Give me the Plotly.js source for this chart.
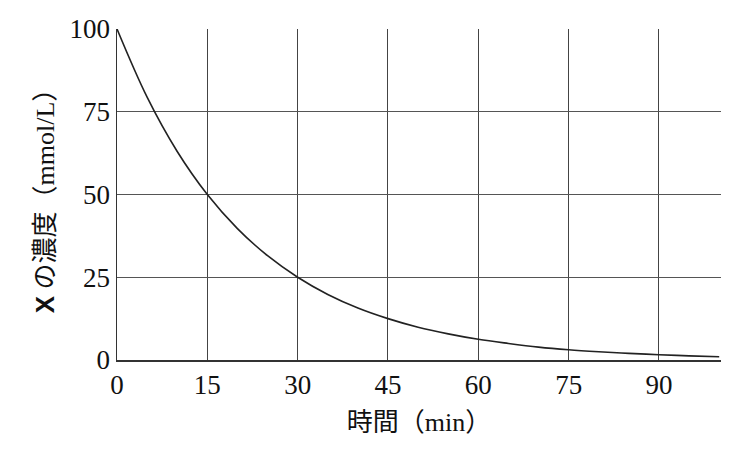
<!DOCTYPE html>
<html><head><meta charset="utf-8">
<script src="https://cdn.plot.ly/plotly-3.0.1.min.js"></script>
<style>html,body{margin:0;padding:0;background:#fff}</style>
</head><body>
<div id="chart" style="width:754px;height:457px"></div>
<script>
// Values
const timeMin = [0, 5, 10, 15, 20, 25, 30, 35, 40, 45, 50, 55, 60, 65, 70, 75, 80, 85, 90, 95, 100];
const concX = [100, 79.4, 63, 50, 39.7, 31.5, 25, 19.8, 15.7, 12.5, 9.9, 7.9, 6.25, 5, 3.9, 3.1, 2.5, 2, 1.6, 1.25, 1.0];
const xTicks = [0, 15, 30, 45, 60, 75, 90];
const yTicks = [0, 25, 50, 75, 100];

const serif = '"Liberation Serif", "Noto Sans CJK JP", serif';
Plotly.newPlot('chart', [{
  x: timeMin, y: concX, type: 'scatter', mode: 'lines',
  line: {color: '#222', width: 1.6, shape: 'spline'}, hoverinfo: 'none'
}], {
  width: 754, height: 457,
  margin: {l: 117, r: 33, t: 29, b: 97},
  paper_bgcolor: '#fff', plot_bgcolor: '#fff',
  showlegend: false,
  xaxis: {
    range: [0, 100.3], tickvals: xTicks, ticktext: xTicks.map(String),
    showgrid: true, gridcolor: '#444', gridwidth: 1,
    zeroline: false, showline: true, linecolor: '#333', linewidth: 1.5,
    ticks: '', tickfont: {family: serif, size: 27, color: '#111'},
    title: {text: '時間（min）', font: {family: serif, size: 26, color: '#111'}, standoff: 14}
  },
  yaxis: {
    range: [0, 100], tickvals: yTicks, ticktext: yTicks.map(String),
    showgrid: true, gridcolor: '#555', gridwidth: 1,
    zeroline: false, showline: true, linecolor: '#333', linewidth: 1.5,
    ticks: '', tickfont: {family: serif, size: 27, color: '#111'},
    title: {text: '<b style="font-family:Liberation Sans">X</b> の濃度（mmol/L）', font: {family: serif, size: 26, color: '#111'}, standoff: 7}
  }
}, {staticPlot: true});
</script>
</body></html>
